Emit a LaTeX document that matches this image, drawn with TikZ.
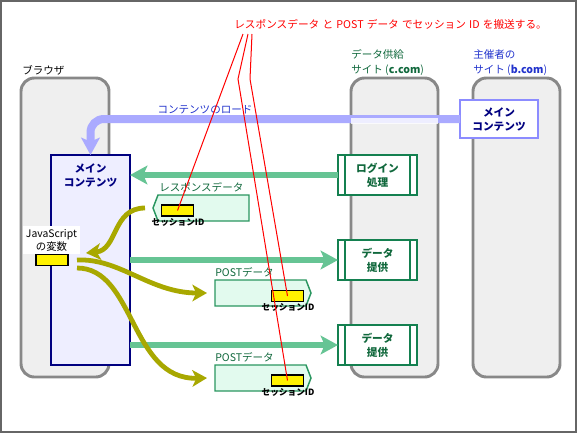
\documentclass[tikz,border=0pt]{standalone}
\usepackage{fontspec}
\setmainfont{Noto Sans CJK JP}
\usetikzlibrary{arrows.meta,fit,calc}
\definecolor{colgray}{HTML}{888888}
\definecolor{colfill}{HTML}{EFEFEF}
\definecolor{navyc}{HTML}{000080}
\definecolor{lav}{HTML}{EEEEFF}
\definecolor{bluearr}{HTML}{AAAAFF}
\definecolor{bluetext}{HTML}{2233CC}
\definecolor{greenarr}{HTML}{66C494}
\definecolor{dgreen}{HTML}{148050}
\definecolor{dgtext}{HTML}{10683C}
\definecolor{pkfill}{HTML}{E2FAEE}
\definecolor{pkline}{HTML}{2A9660}
\definecolor{olivec}{HTML}{A8A800}
\definecolor{mainb}{HTML}{8C8CFF}
\newcommand{\tsp}{\hspace{2.4pt}}
\begin{document}
\begin{tikzpicture}[x=0.75pt,y=-0.75pt,
  column/.style={draw=colgray,line width=2.2pt,fill=colfill,rounded corners=10pt,inner sep=0pt,outer sep=0pt},
  lbl/.style={inner sep=0pt,font=\fontsize{7.9}{11.25}\selectfont},
  boldtxt/.style={inner sep=0pt,align=center,font=\fontsize{8}{10.5}\selectfont\bfseries},
  gbox/.style={draw=dgreen,fill=white,line width=1.8pt,inner sep=0pt,outer sep=0pt},
  gline/.style={draw=dgreen,line width=1.3pt},
  packet/.style={draw=pkline,fill=pkfill,line width=1.1pt},
  ybox/.style={draw=black,fill=yellow,line width=1.1pt,minimum width=24pt,minimum height=8.25pt,inner sep=0pt},
  sidtxt/.style={inner sep=0pt,font=\fontsize{6.5}{8}\selectfont\bfseries},
  greenflow/.style={draw=greenarr,line width=5pt,-{Stealth[length=13pt,width=14pt,inset=3pt]}},
  oliveflow/.style={draw=olivec,line width=3.6pt,-{Stealth[length=11pt,width=12.5pt,inset=3pt]}},
  blueflow/.style={draw=bluearr,line width=6pt,rounded corners=10pt,-{Stealth[length=13pt,width=14pt,inset=3pt]}},
  redline/.style={draw=red,line width=0.75pt}]
\useasboundingbox (0,0) rectangle (577,433);
% columns
\node[column, fit={(21,78) (109,377)}] (browser) {};
\node[column, fit={(351,78) (438,377)}] (csite) {};
\node[column, fit={(473,78) (560,377)}] (bsite) {};
\node[lbl, anchor=west] (browserlbl) at (22,70) {ブラウザ};
\node[lbl, anchor=west, align=left, text=dgtext] (clbl) at (351,62.5) {データ供給\\サイト (\textbf{c.com})};
\node[lbl, anchor=west, align=left, text=bluetext] (blbl) at (473,62.5) {主催者の\\サイト (\textbf{b.com})};
% sponsor main content
\node[draw=mainb, fill=white, line width=2pt, inner sep=0pt, outer sep=0pt, fit={(460,100) (538,138)}] (bmain) {};
\node[boldtxt, text=navyc] (bmaintxt) at (bmain.center) {メイン\\コンテンツ};
% browser main content
\node[draw=navyc, fill=lav, line width=1.6pt, inner sep=0pt, outer sep=0pt, fit={(51,155) (130,365)}] (bcont) {};
\node[boldtxt, text=navyc] (bconttxt) at (90.5,175.5) {メイン\\コンテンツ};
% blue load arrow
\draw[blueflow] (bmain.west) -| (bcont.north);
\fill[white, opacity=0.8] (351,118) rectangle (438,124);
\node[lbl, text=bluetext] (loadlbl) at (205,110) {コンテンツのロード};
% JS variable
\node[fill=white, inner sep=2pt, align=center, font=\fontsize{7.8}{9.75}\selectfont] (jslbl) at (51.5,240) {JavaScript\\の変数};
\node[ybox] (jsvar) at (52,260) {};
% green boxes
\node[gbox, fit={(338,155) (417,195)}] (login) {};
\node[boldtxt, text=dgtext] (logintxt) at (login.center) {ログイン\\処理};
\node[gbox, fit={(338,240) (417,280)}] (data1) {};
\node[boldtxt, text=dgtext] (data1txt) at (data1.center) {データ\\提供};
\node[gbox, fit={(338,325) (417,365)}] (data2) {};
\node[boldtxt, text=dgtext] (data2txt) at (data2.center) {データ\\提供};
\foreach \b in {login,data1,data2}{
  \draw[gline] ($(\b.north west)+(7,0)$) -- ($(\b.south west)+(7,0)$);
  \draw[gline] ($(\b.north east)+(-7,0)$) -- ($(\b.south east)+(-7,0)$);
}
% green arrows
\draw[greenflow] (login.west) -- (login.west -| bcont.east);
\draw[greenflow] (data1.west -| bcont.east) -- (data1.west);
\draw[greenflow] (data2.west -| bcont.east) -- (data2.west);
% packets
\draw[packet] (158,195) -- (249,195) -- (249,221) -- (158,221) -- (153,208) -- cycle;
\draw[packet] (215,280) -- (306,280) -- (311,293) -- (306,306) -- (215,306) -- cycle;
\draw[packet] (215,365) -- (306,365) -- (311,378) -- (306,391) -- (215,391) -- cycle;
\node[lbl, anchor=west, text=dgtext] (resplbl) at (159,187) {レスポンスデータ};
\node[lbl, anchor=west, text=dgtext] (post1lbl) at (215,272.5) {POSTデータ};
\node[lbl, anchor=west, text=dgtext] (post2lbl) at (215,357.5) {POSTデータ};
\node[ybox] (sid1) at (177.5,210.5) {};
\node[ybox] (sid2) at (287.5,296) {};
\node[ybox] (sid3) at (287.5,380.5) {};
\node[sidtxt] (sid1lbl) at (178,222.5) {セッションID};
\node[sidtxt] (sid2lbl) at (288,307.5) {セッションID};
\node[sidtxt] (sid3lbl) at (288,392.5) {セッションID};
% olive arrows
\coordinate (respout) at (145,208);
\coordinate (jsin) at (86,253);
\coordinate (jsout1) at (77,260);
\coordinate (jsout2) at (77,268);
\coordinate (post1in) at (207,293);
\coordinate (post2in) at (207,378);
\draw[oliveflow] (respout) .. controls (112,208) and (118,250) .. (jsin);
\draw[oliveflow] (jsout1) .. controls (120,258) and (150,293) .. (post1in);
\draw[oliveflow] (jsout2) .. controls (135,268) and (130,380) .. (post2in);
% title and red lines
\node[text=red, inner sep=0pt, font=\fontsize{8}{10}\selectfont, anchor=west] (title) at (234,24) {レスポンスデータ\tsp と\tsp POST\tsp データ\tsp でセッション\tsp ID\tsp を搬送する。};
\coordinate (r1) at (243,34);
\coordinate (r2) at (248,34);
\coordinate (r3) at (252,34);
\draw[redline] (r1) -- (sid1.center);
\draw[redline] (r2) -- (238,79) -- (sid3.center);
\draw[redline] (r3) -- (250,79) -- (sid2.center);
% frame
\draw[black!60, line width=1.1pt] (0.8,0.8) rectangle (576.2,432.2);
\end{tikzpicture}
\end{document}
